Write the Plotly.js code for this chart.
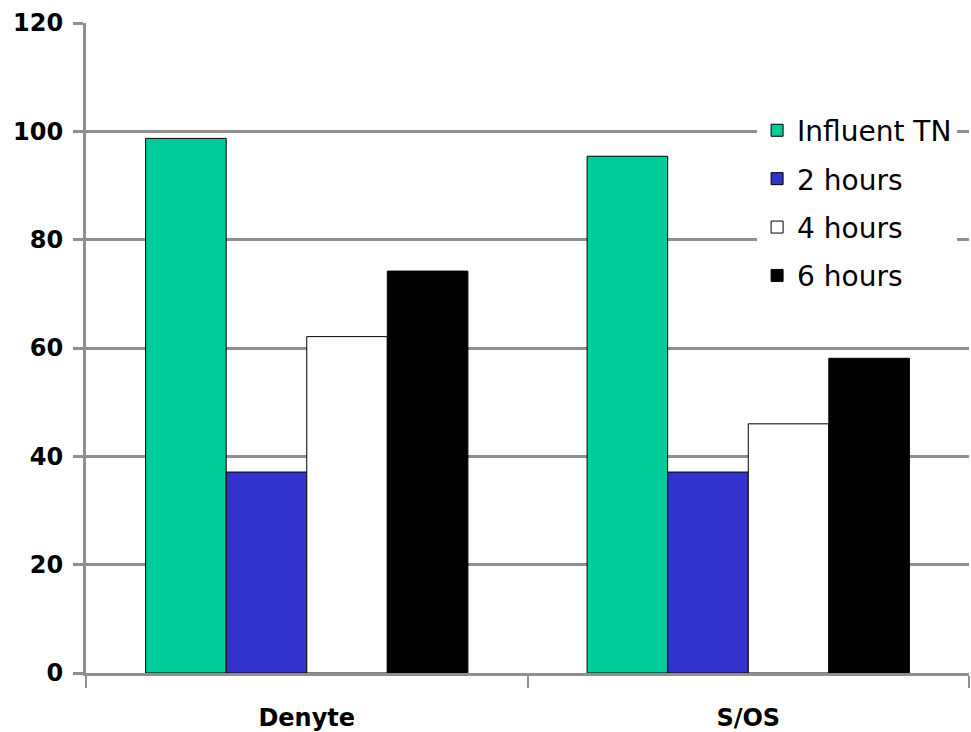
<!DOCTYPE html>
<html>
<head>
<meta charset="utf-8">
<script src="https://cdn.plot.ly/plotly-3.0.1.min.js"></script>
<style>
  html, body { margin: 0; padding: 0; background: #fff; }
  #chart { width: 971px; height: 732px; }
</style>
</head>
<body>
<div id="chart"></div>
<script>
// Total nitrogen by treatment and hydraulic retention time
const categories = ['Denyte', 'S/OS'];
const influentTN = [98.7, 95.4];
const hours2 = [37.1, 37.1];
const hours4 = [62.1, 46.0];
const hours6 = [74.2, 58.1];

const seriesNames = ['Influent TN', '2 hours', '4 hours', '6 hours'];
const seriesValues = [influentTN, hours2, hours4, hours6];
const seriesColors = ['#00CC99', '#3333CC', '#FFFFFF', '#000000'];

const gray = '#8f8f8f';

const traces = seriesNames.map((name, i) => ({
  type: 'bar',
  name: name,
  x: categories,
  y: seriesValues[i],
  legendgroup: 'g' + i,
  marker: { color: seriesColors[i], line: { color: '#000', width: 1 } },
  hoverinfo: 'x+y+name'
}));

const tickFont = { size: 24, weight: 'bold', family: '"DejaVu Sans", Verdana, sans-serif' };

const layout = {
  width: 971,
  height: 732,
  margin: { l: 86, r: 2, t: 23, b: 59 },
  paper_bgcolor: '#fff',
  plot_bgcolor: '#fff',
  barmode: 'group',
  bargap: 0.27,
  bargroupgap: 0,
  font: { family: 'Verdana, "DejaVu Sans", sans-serif', color: '#000' },
  xaxis: {
    type: 'category',
    showline: true,
    linecolor: gray,
    linewidth: 3,
    ticks: 'outside',
    tickson: 'boundaries',
    ticklen: 12,
    tickwidth: 2,
    tickcolor: gray,
    showgrid: false,
    zeroline: false,
    ticklabelstandoff: 21,
    tickfont: tickFont
  },
  yaxis: {
    range: [0, 120],
    dtick: 20,
    showline: true,
    linecolor: gray,
    linewidth: 3,
    ticks: 'outside',
    ticklen: 10,
    tickwidth: 3,
    tickcolor: gray,
    showgrid: true,
    gridcolor: gray,
    gridwidth: 3,
    zeroline: false,
    ticklabelstandoff: 5,
    tickfont: tickFont
  },
  legend: {
    x: 0.76,
    y: 0.873,
    xanchor: 'left',
    yanchor: 'top',
    bgcolor: '#fff',
    borderwidth: 0,
    traceorder: 'grouped',
    tracegroupgap: 9,
    itemwidth: 30,
    font: { size: 28, family: '"DejaVu Sans", Verdana, sans-serif', color: '#000' }
  },
  showlegend: true
};

Plotly.newPlot('chart', traces, layout, { displayModeBar: false, staticPlot: true });
</script>
</body>
</html>
